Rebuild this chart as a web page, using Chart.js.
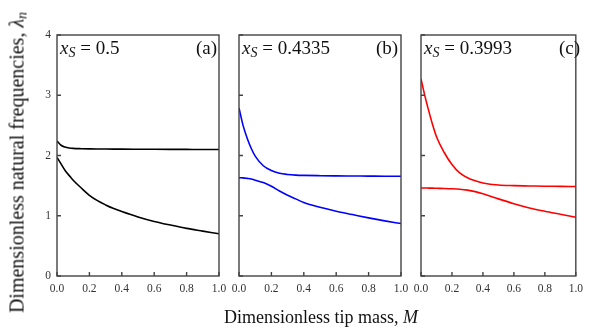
<!DOCTYPE html>
<html>
<head>
<meta charset="utf-8">
<script src="https://cdn.jsdelivr.net/npm/chart.js@4/dist/chart.umd.min.js"></script>
<style>
  body { margin: 0; background: #fff; }
  #wrap { position: relative; width: 589px; height: 335px; overflow: hidden; font-family: 'Liberation Serif', serif; color: #111; }
  #wrap canvas { position: absolute; left: 0; top: 0; }
  .lab { position: absolute; font-size: 19px; line-height: 19px; white-space: nowrap; }
  .lab i sub { font-size: 14px; position: relative; top: 3px; vertical-align: baseline; }
  .ytitle { position: absolute; left: -142px; top: 151px; width: 320px; text-align: center; font-size: 20px; line-height: 20px; transform: rotate(-90deg); white-space: nowrap; }
  .ytitle sub { font-size: 14px; position: relative; top: 3px; vertical-align: baseline; }
  .xtitle { position: absolute; left: 171px; top: 308px; width: 300px; text-align: center; font-size: 18px; line-height: 18px; white-space: nowrap; }
</style>
</head>
<body>
<div id="wrap">
  <canvas id="chartA" width="589" height="335"></canvas>
  <canvas id="chartB" width="589" height="335"></canvas>
  <canvas id="chartC" width="589" height="335"></canvas>

  <div class="lab" style="left:60px; top:38px;"><i>x<sub>S</sub></i> = 0.5</div>
  <div class="lab" style="left:196px; top:38px;">(a)</div>
  <div class="lab" style="left:242px; top:38px;"><i>x<sub>S</sub></i> = 0.4335</div>
  <div class="lab" style="left:376px; top:38px;">(b)</div>
  <div class="lab" style="left:424px; top:38px;"><i>x<sub>S</sub></i> = 0.3993</div>
  <div class="lab" style="left:559px; top:38px;">(c)</div>

  <div class="ytitle">Dimensionless natural frequencies, <i>λ<sub>n</sub></i></div>
  <div class="xtitle">Dimensionless tip mass, <i>M</i></div>
</div>

<script>
// tip mass grid
const M = [0, 0.025, 0.05, 0.075, 0.1, 0.15, 0.2, 0.25, 0.3, 0.35, 0.4, 0.5, 0.6, 0.7, 0.8, 0.9, 1.0];

// (a) xS = 0.5
const aUpper = [2.24, 2.17, 2.14, 2.125, 2.118, 2.113, 2.11, 2.108, 2.107, 2.106, 2.105, 2.104, 2.103, 2.102, 2.101, 2.1, 2.1];
const aLower = [1.97, 1.86, 1.75, 1.67, 1.59, 1.46, 1.34, 1.25, 1.18, 1.12, 1.07, 0.98, 0.905, 0.845, 0.79, 0.745, 0.70];

// (b) xS = 0.4335
const bUpper = [2.79, 2.50, 2.29, 2.12, 1.99, 1.83, 1.75, 1.705, 1.685, 1.675, 1.67, 1.665, 1.662, 1.66, 1.658, 1.656, 1.655];
const bLower = [1.63, 1.628, 1.62, 1.61, 1.59, 1.55, 1.49, 1.41, 1.34, 1.28, 1.22, 1.14, 1.075, 1.02, 0.965, 0.915, 0.87];

// (c) xS = 0.3993
const cUpper = [3.27, 2.99, 2.74, 2.51, 2.31, 2.05, 1.85, 1.71, 1.63, 1.58, 1.545, 1.51, 1.50, 1.495, 1.49, 1.488, 1.485];
const cLower = [1.46, 1.46, 1.459, 1.458, 1.456, 1.453, 1.448, 1.44, 1.425, 1.40, 1.365, 1.28, 1.20, 1.13, 1.075, 1.025, 0.975];

const yTicks = [0, 1, 2, 3, 4];

Chart.defaults.font.family = "'Liberation Serif', serif";
Chart.defaults.color = '#333';

// frame + inward tick marks
const framePlugin = {
  id: 'frame',
  afterDraw(chart) {
    const { ctx, chartArea: a, scales } = chart;
    ctx.save();
    ctx.strokeStyle = '#444';
    ctx.lineWidth = 1.4;
    ctx.strokeRect(a.left, a.top, a.right - a.left, a.bottom - a.top);
    ctx.beginPath();
    scales.x.ticks.forEach(t => {
      const px = scales.x.getPixelForValue(t.value);
      ctx.moveTo(px, a.bottom);
      ctx.lineTo(px, a.bottom - 4);
    });
    scales.y.ticks.forEach(t => {
      const py = scales.y.getPixelForValue(t.value);
      ctx.moveTo(a.left, py);
      ctx.lineTo(a.left + 4, py);
    });
    ctx.stroke();
    ctx.restore();
  }
};

function pts(ys) {
  return M.map((m, i) => ({ x: m, y: ys[i] }));
}

function makeChart(id, upper, lower, color, padLeft, padRight, showY) {
  const line = { borderColor: color, borderWidth: 1.6, pointRadius: 0, fill: false, cubicInterpolationMode: 'monotone' };
  return new Chart(document.getElementById(id), {
    type: 'line',
    data: {
      datasets: [
        Object.assign({ data: pts(upper) }, line),
        Object.assign({ data: pts(lower) }, line)
      ]
    },
    options: {
      responsive: false,
      animation: false,
      devicePixelRatio: 1,
      layout: { padding: { left: padLeft, right: padRight, top: 35, bottom: 0 } },
      plugins: { legend: { display: false }, tooltip: { enabled: false } },
      scales: {
        x: {
          type: 'linear', min: 0, max: 1,
          grid: { display: false, drawTicks: false },
          border: { display: false },
          ticks: { stepSize: 0.2, autoSkip: false, maxRotation: 0, padding: 6,
                   font: { size: 11.5 }, callback: v => v.toFixed(1) },
          afterFit: s => { s.height = 59; }
        },
        y: {
          min: 0, max: 4,
          grid: { display: false, drawTicks: false },
          border: { display: false },
          afterBuildTicks: s => { s.ticks = yTicks.map(v => ({ value: v })); },
          ticks: { display: showY, padding: 6, font: { size: 11.5 } },
          afterFit: s => { s.width = showY ? 57 : 0; }
        }
      }
    },
    plugins: [framePlugin]
  });
}

makeChart('chartA', aUpper, aLower, '#000000', 0, 370, true);
makeChart('chartB', bUpper, bLower, '#0000ff', 239, 188, false);
makeChart('chartC', cUpper, cLower, '#ff0000', 421, 7, false);
</script>
</body>
</html>
